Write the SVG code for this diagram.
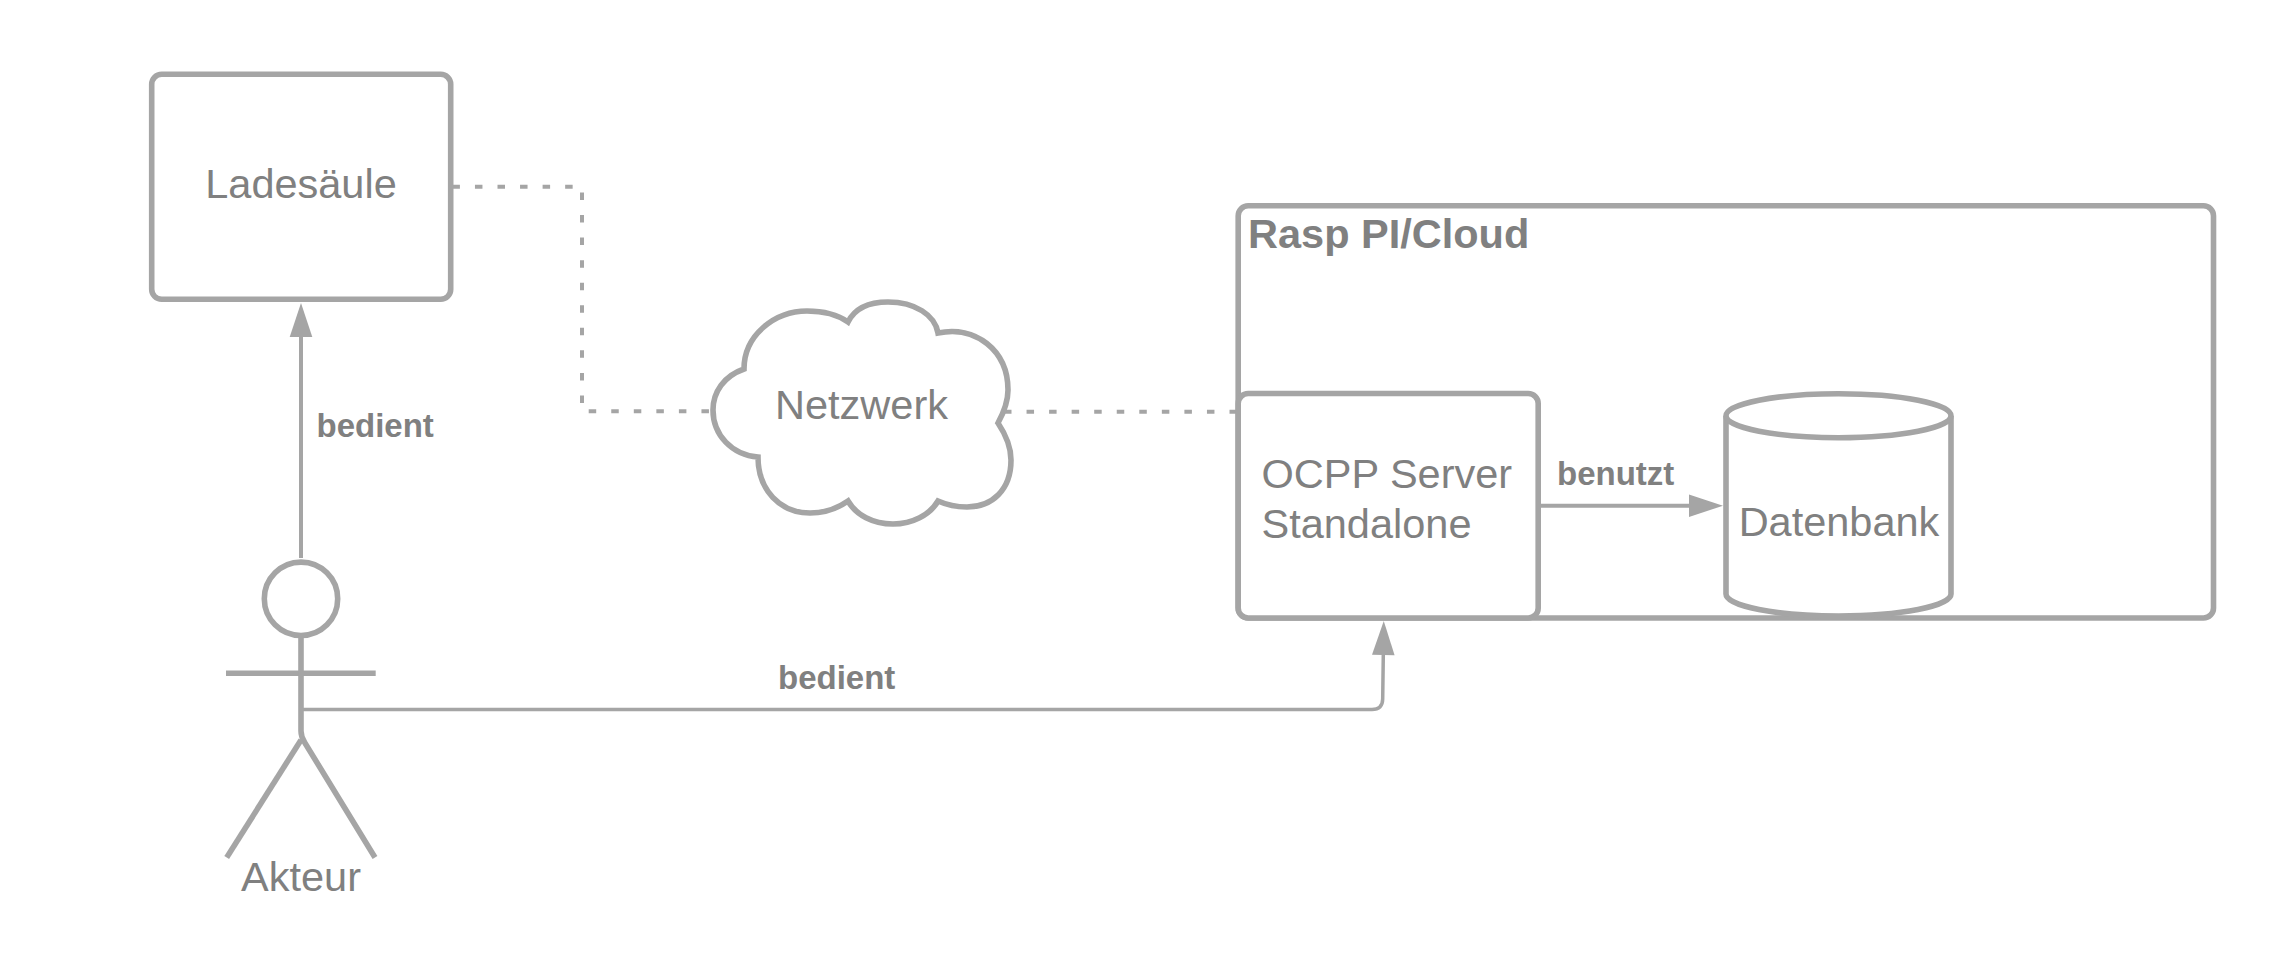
<svg xmlns="http://www.w3.org/2000/svg" width="2288" height="975" viewBox="0 0 2288 975">
<style>
.s{fill:none;stroke:#a5a5a5;stroke-width:5.600}
.w{fill:#fff;stroke:#a5a5a5;stroke-width:5.600}
.c{fill:none;stroke:#a5a5a5;stroke-width:4}
.d{fill:none;stroke:#a5a5a5;stroke-width:4;stroke-dasharray:7.500 15.050}
text{font-family:"Liberation Sans",Arial,sans-serif;fill:#808080;font-size:41.500px}
.b{font-weight:bold;font-size:33px}
.m{text-anchor:middle}
</style>
<defs>
<marker id="a" markerUnits="userSpaceOnUse" markerWidth="36" markerHeight="25" refX="1" refY="12.500" orient="auto"><path d="M1 1.200L35 12.500L1 23.800Z" fill="#a5a5a5"/></marker>
</defs>
<rect width="2288" height="975" fill="#fff"/>
<g id="rasp">
<rect class="w" x="1238.200" y="205.800" width="975.300" height="412.200" rx="10"/>
<text class="b" x="1248" y="248.300" style="font-size:41.500px">Rasp PI/Cloud</text>
</g>
<g id="connectors">
<path class="c" d="M301 558V337" marker-end="url(#a)"/>
<path class="c" style="stroke-width:3.500" d="M301 709.500H1372Q1382.500 709.500 1382.700 699L1383.300 655" marker-end="url(#a)"/>
<path class="c" d="M1540 505.700H1689" marker-end="url(#a)"/>
<path class="d" d="M452.400 186.800H582V411.300H712"/>
<path class="d" d="M1004 411.700H1238"/>
</g>
<g id="ladesaeule">
<rect class="w" x="151.700" y="74.300" width="299" height="225" rx="10"/>
<text class="m" x="301" y="198">Ladesäule</text>
</g>
<g id="netzwerk">
<path class="w" d="M848 322C855 308 870 302 888 302C915 302 935 315 938 333C975 325 1008 350 1008 390C1008 402 1004 412 998 423C1006 435 1011 448 1011 460C1011 490 992 507 967 507C956 507 947 505 938 501C930 515 912 524 893 524C873 524 856 515 848 501C838 508 825 513 810 513C780 513 758 490 758 457C732 455 713 435 713 410C713 392 724 376 744 369C744 335 775 311 807 311C823 311 838 315 848 322Z"/>
<text class="m" x="861.500" y="419.300">Netzwerk</text>
</g>
<g id="server">
<rect class="w" x="1238.200" y="393.500" width="300" height="224.500" rx="10"/>
<text x="1261.500" y="488">OCPP Server</text>
<text x="1261.500" y="538">Standalone</text>
</g>
<g id="datenbank">
<path class="w" d="M1726 416V594A112.500 22 0 0 0 1951 594V416"/>
<ellipse class="w" cx="1838.500" cy="415.700" rx="112.500" ry="22"/>
<text class="m" x="1839" y="535.700">Datenbank</text>
</g>
<g id="akteur">
<circle class="s" cx="301" cy="598.800" r="36.700"/>
<path class="s" d="M226 673.300H375.700"/>
<path class="s" d="M301 635V731Q301 737 305 743L375 857.500"/>
<path class="s" d="M301 740L226.700 857.500"/>
<text class="m" x="301" y="891">Akteur</text>
</g>
<g id="labels">
<text class="b" x="316.500" y="437">bedient</text>
<text class="b" x="778" y="689">bedient</text>
<text class="b" x="1557" y="484.500">benutzt</text>
</g>
</svg>
